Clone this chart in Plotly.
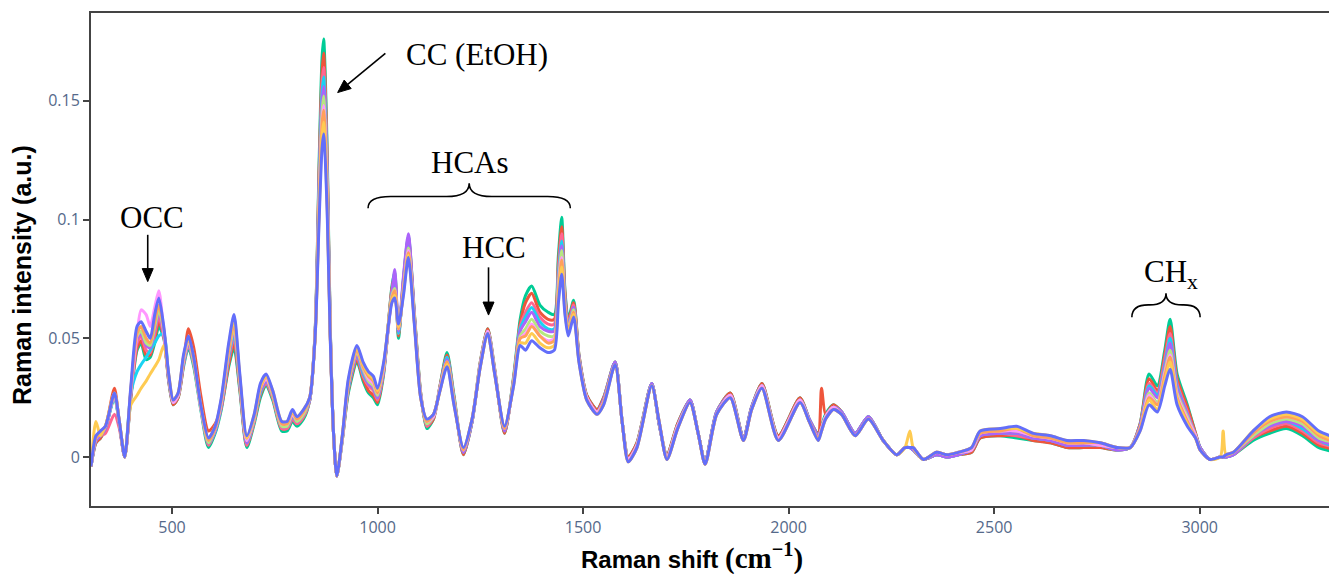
import numpy as np
import plotly.graph_objects as go

# Raman shift grid (cm^-1)
wavenumber = [
    303, 315, 326, 338, 360, 372, 385, 400, 415, 425, 437, 447, 458, 468, 480, 492, 503, 515, 528, 540,
    553, 570, 589, 605, 620, 638, 651, 665, 682, 700, 715, 729, 745, 767, 780, 793, 804, 820, 835, 848,
    858, 865, 869, 873, 878, 885, 893, 901, 915, 929, 950, 965, 978, 990, 1000, 1015, 1035, 1042, 1051, 1063,
    1075, 1090, 1105, 1120, 1136, 1152, 1169, 1186, 1209, 1230, 1250, 1268, 1285, 1309, 1331, 1347, 1360, 1375, 1395, 1415,
    1430, 1440, 1448, 1456, 1464, 1477, 1490, 1509, 1534, 1550, 1578, 1595, 1610, 1631, 1667, 1685, 1704, 1730, 1760, 1780,
    1797, 1825, 1858, 1890, 1910, 1935, 1975, 2028, 2050, 2072, 2080, 2090, 2109, 2129, 2162, 2194, 2230, 2263, 2283, 2295,
    2303, 2328, 2360, 2385, 2413, 2445, 2466, 2515, 2555, 2595, 2637, 2677, 2718, 2758, 2799, 2831, 2855, 2877, 2897, 2915,
    2928, 2945, 2970, 2990, 3001, 3025, 3050, 3057, 3064, 3082, 3130, 3170, 3211, 3250, 3290, 3334,
]

# Raman intensities, in units of 0.001 a.u., one list per spectrum
spec_green = [
    -4, 6, 8, 12, 25, 14, 0, 25, 45, 48, 41, 42, 48, 55, 50, 32, 22, 25, 38, 46,
    38, 20, 4, 10, 20, 38, 46, 28, 4, 14, 25, 30, 24, 11, 11, 15, 13, 16, 24, 52,
    125, 168, 176, 160, 125, 55, 10, -8, 8, 27, 40, 32, 27, 25, 22, 35, 72, 78, 50, 75,
    93, 60, 27, 12, 16, 30, 44, 26, 1, 15, 40, 54, 37, 10, 34, 58, 68, 72, 64, 61,
    60, 85, 101, 70, 58, 66, 43, 26, 20, 25, 40, 15, 0, 6, 31, 14, 1, 14, 24, 10,
    -2, 19, 27, 8, 21, 31, 9, 25, 16, 10, 13, 18, 22, 19, 10, 17, 7, 1, 4, 4,
    3, -1, 1, 0, 1, 2, 8, 9, 8, 7, 6, 4, 4, 4, 3, 4, 14, 35, 30, 45,
    58, 35, 22, 10, 4, -1, 0, 0, 0, 1, 7, 10, 12, 9, 4, 2,
]
spec_red = [
    -4, 6, 8, 12, 29, 14, 0, 26, 46, 49, 43, 43, 50, 57, 51, 32, 22, 25, 39, 54,
    46, 26, 11, 14, 21, 39, 48, 29, 5, 15, 26, 31, 25, 12, 12, 16, 14, 17, 24, 52,
    121, 162, 170, 155, 121, 54, 10, -8, 8, 28, 41, 33, 28, 26, 23, 36, 71, 76, 51, 74,
    92, 59, 27, 13, 16, 30, 43, 25, 1, 15, 40, 54, 37, 10, 33, 56, 65, 69, 61, 58,
    58, 82, 97, 69, 57, 65, 43, 26, 20, 25, 40, 15, 0, 6, 31, 14, 1, 14, 24, 10,
    -2, 19, 27, 8, 21, 31, 9, 25, 16, 10, 29, 18, 22, 19, 10, 17, 7, 1, 4, 4,
    3, -1, 1, 0, 1, 2, 8, 9, 9, 7, 6, 4, 4, 4, 3, 4, 14, 33, 28, 43,
    55, 33, 21, 10, 4, -1, 0, 0, 0, 1, 8, 11, 13, 10, 5, 3,
]
spec_magenta = [
    -4, 7, 9, 10, 18, 12, 0, 26, 48, 51, 45, 44, 52, 59, 51, 33, 23, 26, 39, 47,
    39, 21, 5, 11, 21, 41, 50, 30, 5, 15, 27, 31, 25, 12, 12, 16, 14, 17, 24, 51,
    118, 157, 164, 150, 118, 54, 10, -8, 9, 29, 42, 34, 30, 28, 24, 36, 70, 75, 52, 73,
    90, 59, 26, 13, 17, 29, 42, 25, 2, 15, 39, 53, 36, 11, 33, 55, 61, 65, 59, 56,
    56, 79, 94, 67, 56, 64, 42, 25, 19, 24, 40, 15, -1, 5, 31, 14, 0, 13, 24, 10,
    -2, 19, 26, 8, 21, 30, 8, 24, 16, 9, 12, 17, 21, 19, 10, 17, 7, 1, 4, 4,
    3, -1, 1, 0, 1, 3, 9, 10, 9, 8, 7, 5, 5, 5, 3, 4, 13, 31, 27, 41,
    52, 31, 19, 9, 4, -1, 0, 0, 0, 1, 8, 12, 14, 11, 6, 4,
]
spec_cyan = [
    -4, 7, 9, 12, 26, 14, 0, 27, 36, 39, 42, 45, 48, 51, 52, 33, 23, 26, 40, 48,
    40, 21, 6, 11, 22, 42, 52, 31, 6, 16, 27, 32, 26, 13, 13, 17, 15, 18, 24, 51,
    115, 153, 160, 146, 115, 53, 10, -8, 9, 29, 43, 35, 31, 29, 25, 37, 69, 74, 52, 72,
    89, 58, 26, 14, 17, 29, 42, 24, 2, 15, 39, 53, 36, 11, 32, 54, 59, 63, 57, 54,
    54, 77, 91, 66, 55, 63, 42, 25, 19, 24, 40, 15, -1, 5, 31, 14, 0, 13, 24, 10,
    -2, 19, 26, 8, 21, 30, 8, 24, 16, 9, 12, 17, 21, 19, 10, 17, 7, 1, 4, 4,
    3, -1, 1, 0, 1, 3, 9, 10, 10, 8, 7, 5, 5, 5, 3, 4, 13, 30, 26, 39,
    50, 30, 18, 9, 4, -1, 0, 0, 0, 1, 9, 13, 15, 12, 7, 4,
]
spec_purple = [
    -4, 7, 9, 12, 26, 14, 0, 27, 50, 52, 47, 46, 54, 61, 52, 33, 23, 26, 40, 48,
    40, 21, 6, 11, 22, 43, 53, 31, 6, 16, 28, 32, 26, 13, 13, 17, 15, 18, 24, 51,
    113, 149, 156, 143, 113, 53, 10, -8, 9, 30, 43, 36, 31, 29, 25, 37, 69, 79, 53, 76,
    94, 58, 26, 14, 17, 29, 41, 24, 2, 15, 39, 53, 36, 11, 32, 53, 57, 61, 55, 53,
    53, 75, 89, 65, 55, 63, 42, 25, 19, 24, 40, 15, -1, 5, 31, 14, 0, 13, 24, 10,
    -2, 19, 26, 8, 21, 30, 8, 24, 16, 9, 12, 17, 21, 19, 10, 17, 7, 1, 4, 4,
    3, -1, 1, 0, 1, 3, 9, 10, 10, 8, 7, 5, 5, 5, 3, 4, 13, 29, 25, 38,
    48, 29, 18, 9, 4, -1, 0, 0, 0, 1, 9, 13, 15, 13, 7, 5,
]
spec_lightgreen = [
    -4, 8, 10, 13, 26, 15, 0, 28, 51, 53, 48, 47, 55, 62, 53, 34, 23, 26, 41, 49,
    40, 21, 6, 12, 23, 44, 54, 32, 7, 16, 29, 33, 26, 13, 13, 18, 15, 18, 25, 51,
    110, 145, 152, 139, 110, 52, 10, -8, 9, 31, 44, 37, 32, 30, 26, 38, 68, 71, 54, 71,
    88, 57, 26, 14, 17, 29, 40, 24, 3, 16, 39, 53, 36, 12, 32, 51, 54, 58, 53, 51,
    51, 73, 87, 64, 54, 62, 41, 25, 19, 23, 39, 15, -1, 5, 30, 15, 0, 13, 23, 10,
    -3, 18, 26, 7, 20, 30, 8, 24, 15, 8, 12, 17, 21, 18, 9, 16, 7, 1, 4, 4,
    4, -1, 2, 1, 2, 3, 10, 11, 11, 9, 8, 6, 6, 5, 4, 4, 12, 27, 23, 36,
    45, 27, 17, 9, 3, -1, 0, 0, 1, 2, 9, 14, 16, 14, 8, 6,
]
spec_pink = [
    -4, 8, 10, 13, 26, 15, 0, 28, 52, 62, 60, 55, 63, 70, 53, 34, 23, 26, 41, 49,
    41, 21, 7, 12, 23, 45, 56, 33, 7, 17, 29, 33, 27, 14, 14, 18, 16, 19, 25, 51,
    108, 141, 148, 136, 108, 52, 10, -8, 9, 31, 45, 38, 33, 31, 27, 38, 67, 70, 54, 70,
    87, 57, 26, 15, 17, 29, 40, 23, 3, 16, 39, 53, 36, 12, 31, 50, 52, 56, 51, 49,
    50, 71, 84, 63, 53, 61, 41, 25, 19, 23, 39, 15, -1, 5, 30, 15, 0, 13, 23, 10,
    -3, 18, 26, 7, 20, 30, 8, 24, 15, 8, 12, 17, 21, 18, 9, 16, 7, 1, 4, 4,
    4, -1, 2, 1, 2, 3, 10, 11, 11, 9, 8, 6, 6, 5, 4, 4, 12, 26, 22, 35,
    43, 26, 16, 9, 3, -1, 0, 0, 1, 2, 10, 15, 17, 15, 9, 6,
]
spec_orange = [
    -4, 8, 10, 13, 27, 15, 0, 29, 52, 55, 50, 48, 57, 64, 54, 34, 24, 27, 42, 50,
    41, 22, 7, 12, 24, 45, 56, 33, 8, 17, 29, 34, 27, 14, 14, 19, 16, 19, 25, 50,
    106, 140, 146, 134, 106, 51, 10, -8, 10, 31, 45, 38, 34, 32, 27, 39, 67, 70, 54, 70,
    86, 56, 25, 15, 18, 28, 40, 23, 3, 16, 38, 52, 35, 12, 31, 50, 51, 55, 51, 48,
    49, 70, 83, 63, 53, 61, 41, 24, 18, 23, 39, 15, -2, 4, 30, 15, -1, 12, 23, 10,
    -3, 18, 25, 7, 20, 29, 7, 23, 15, 8, 11, 16, 20, 18, 9, 16, 7, 1, 4, 4,
    4, -1, 2, 1, 2, 4, 10, 11, 12, 9, 8, 6, 6, 6, 4, 4, 12, 25, 22, 34,
    42, 25, 15, 8, 3, -1, 0, 0, 1, 2, 10, 15, 17, 15, 9, 6,
]
spec_yellow = [
    -4, 15, 9, 13, 27, 15, 0, 22, 26, 29, 32, 35, 38, 41, 47, 35, 24, 27, 42, 50,
    42, 22, 8, 13, 24, 47, 58, 34, 8, 18, 30, 34, 28, 15, 15, 19, 17, 20, 25, 50,
    103, 135, 141, 129, 103, 51, 10, -8, 10, 32, 46, 39, 35, 33, 28, 39, 66, 68, 55, 69,
    85, 56, 25, 16, 18, 28, 39, 22, 4, 16, 38, 52, 35, 13, 30, 48, 48, 52, 48, 46,
    47, 67, 80, 61, 52, 60, 40, 24, 18, 22, 39, 15, -2, 4, 30, 15, -1, 12, 23, 10,
    -3, 18, 25, 7, 20, 29, 7, 23, 15, 7, 11, 16, 20, 18, 9, 16, 7, 1, 4, 11,
    4, -1, 2, 1, 2, 4, 11, 12, 12, 10, 9, 7, 7, 6, 4, 4, 11, 24, 20, 32,
    40, 24, 14, 8, 3, -1, 0, 11, 1, 2, 11, 16, 18, 16, 10, 7,
]
spec_blue = [
    -4, 9, 11, 13, 27, 15, 0, 30, 55, 57, 53, 50, 60, 67, 55, 35, 24, 27, 43, 51,
    42, 22, 8, 13, 25, 48, 60, 35, 9, 18, 31, 35, 28, 15, 15, 20, 17, 20, 25, 50,
    100, 130, 136, 125, 100, 50, 10, -8, 10, 33, 47, 40, 36, 34, 29, 40, 65, 67, 56, 68,
    84, 55, 25, 16, 18, 28, 38, 22, 4, 16, 38, 52, 35, 13, 30, 47, 45, 49, 46, 44,
    45, 65, 77, 60, 51, 59, 40, 24, 18, 22, 39, 15, -2, 4, 30, 15, -1, 12, 23, 10,
    -3, 18, 25, 7, 20, 29, 7, 23, 15, 7, 11, 16, 20, 18, 9, 16, 7, 1, 4, 4,
    4, -1, 2, 1, 2, 4, 11, 12, 13, 10, 9, 7, 7, 6, 4, 4, 11, 22, 19, 30,
    37, 22, 13, 8, 3, -1, 0, 0, 1, 2, 11, 17, 19, 17, 11, 8,
]

spectra = [
    ("#00CC96", spec_green),
    ("#EF553B", spec_red),
    ("#FF6692", spec_magenta),
    ("#19D3F3", spec_cyan),
    ("#AB63FA", spec_purple),
    ("#B6E880", spec_lightgreen),
    ("#FF97FF", spec_pink),
    ("#FFA15A", spec_orange),
    ("#FECB52", spec_yellow),
    ("#636EFA", spec_blue),
]

X_RANGE = [303, 3334]
Y_RANGE = [-0.0206, 0.187]
FIG_W, FIG_H = 1329, 566          # page body adds an 8 px offset
MARGIN = dict(l=83, r=0, t=5, b=68)

fig = go.Figure()
for color, vals in spectra:
    fig.add_trace(go.Scatter(
        x=wavenumber, y=np.array(vals) / 1000.0, mode="lines",
        line=dict(color=color, width=3, shape="spline", smoothing=0.7),
        showlegend=False, hoverinfo="skip",
    ))

serif = "Liberation Serif, DejaVu Serif, serif"
ann_font = dict(family=serif, size=31, color="black")
title_font = dict(family="Liberation Sans, Arial, sans-serif", size=24, color="black", weight="bold")

annotations = [
    dict(x=1242, y=0.1694, text="CC (EtOH)", showarrow=False, font=ann_font,
         xanchor="center", yanchor="middle"),
    dict(x=1225, y=0.1241, text="HCAs", showarrow=False, font=ann_font,
         xanchor="center", yanchor="middle"),
    dict(x=1283, y=0.0881, text="HCC", showarrow=False, font=ann_font,
         xanchor="center", yanchor="middle"),
    dict(x=451, y=0.1007, text="OCC", showarrow=False, font=ann_font,
         xanchor="center", yanchor="middle"),
    dict(x=2931, y=0.0771, text="CH<sub>x</sub>", showarrow=False, font=ann_font,
         xanchor="center", yanchor="middle"),
    # axis titles
    dict(xref="paper", yref="paper", x=0.4824, y=-0.1030, showarrow=False,
         text="Raman shift <span style='font-family:Liberation Serif;font-size:29px'>(cm<sup>−1</sup>)</span>",
         font=title_font, xanchor="center", yanchor="middle"),
    dict(xref="paper", yref="paper", x=-0.0550, y=0.4696, showarrow=False,
         text="Raman intensity (a.u.)", textangle=-90,
         font=dict(family="Liberation Sans, Arial, sans-serif", size=25, color="black", weight="bold"),
         xanchor="center", yanchor="middle"),
]

# pixel scale of the plotting area, used to draw undistorted arrow heads
plot_w = FIG_W - MARGIN["l"] - MARGIN["r"]
plot_h = FIG_H - MARGIN["t"] - MARGIN["b"]
sx = plot_w / (X_RANGE[1] - X_RANGE[0])
sy = plot_h / (Y_RANGE[1] - Y_RANGE[0])


def arrow_shapes(x0, y0, x1, y1, head_len=13.0, head_half=5.5, width=1.6):
    dxp, dyp = (x1 - x0) * sx, (y1 - y0) * sy
    L = float(np.hypot(dxp, dyp))
    ux, uy = dxp / L, dyp / L
    nx, ny = -uy, ux
    bx, by = x1 - ux * head_len / sx, y1 - uy * head_len / sy
    lx, ly = bx + nx * head_half / sx, by + ny * head_half / sy
    rx, ry = bx - nx * head_half / sx, by - ny * head_half / sy
    return [
        dict(type="line", xref="x", yref="y", x0=x0, y0=y0, x1=bx, y1=by,
             line=dict(color="black", width=width)),
        dict(type="path", xref="x", yref="y",
             path=f"M {x1},{y1} L {lx},{ly} L {rx},{ry} Z",
             fillcolor="black", line=dict(color="black", width=1)),
    ]


def brace(x0, x1, y_end, y_flat, y_tip, dx):
    xm = (x0 + x1) / 2.0
    return (f"M {x0},{y_end} Q {x0},{y_flat} {x0 + dx},{y_flat} "
            f"L {xm - dx},{y_flat} Q {xm},{y_flat} {xm},{y_tip} "
            f"Q {xm},{y_flat} {xm + dx},{y_flat} "
            f"L {x1 - dx},{y_flat} Q {x1},{y_flat} {x1},{y_end}")


shapes = [
    dict(type="path", xref="x", yref="y",
         path=brace(977, 1469, 0.1048, 0.1097, 0.1153, 55),
         line=dict(color="black", width=1.6)),
    dict(type="path", xref="x", yref="y",
         path=brace(2835, 3001, 0.0589, 0.0641, 0.0690, 40),
         line=dict(color="black", width=1.6)),
]
shapes += arrow_shapes(1019, 0.170, 903, 0.1535)
shapes += arrow_shapes(441, 0.0936, 441, 0.0739)
shapes += arrow_shapes(1270, 0.0799, 1270, 0.0598)

tick_font = dict(family="Open Sans, Verdana, sans-serif", size=16, color="#55698a")

fig.update_layout(
    width=FIG_W, height=FIG_H,
    margin=MARGIN,
    paper_bgcolor="white", plot_bgcolor="white",
    annotations=annotations, shapes=shapes,
    xaxis=dict(
        range=X_RANGE, tick0=0, dtick=500,
        showgrid=False, zeroline=False,
        showline=True, linecolor="#444", linewidth=2, mirror=True,
        ticks="outside", ticklen=6, tickwidth=1.5, tickcolor="#444",
        tickfont=tick_font, automargin=False,
    ),
    yaxis=dict(
        range=Y_RANGE, tick0=0, dtick=0.05,
        showgrid=False, zeroline=False,
        showline=True, linecolor="#444", linewidth=2, mirror=True,
        ticks="outside", ticklen=6, tickwidth=1.5, tickcolor="#444",
        tickfont=tick_font, automargin=False,
    ),
)

fig.write_html("out.html")
